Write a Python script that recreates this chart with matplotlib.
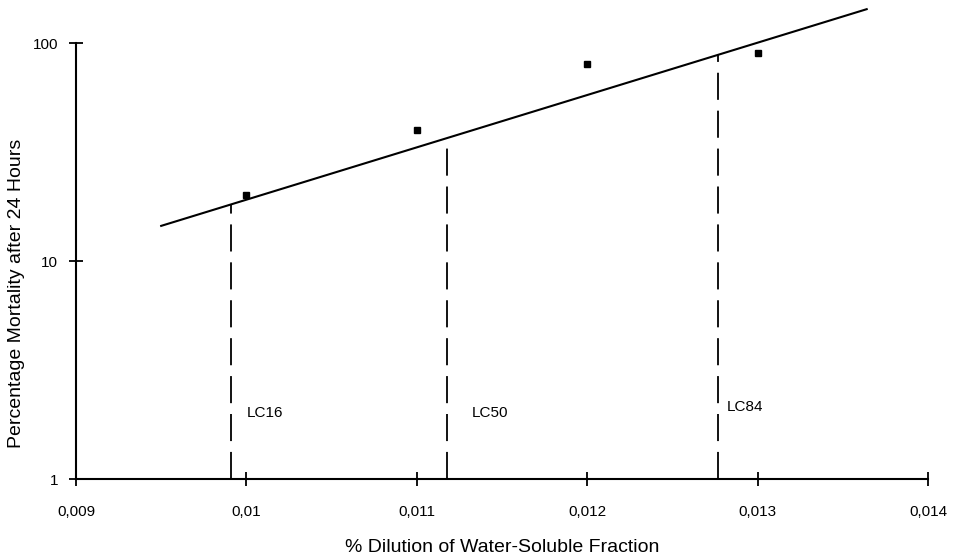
import numpy as np
import matplotlib.pyplot as plt
from matplotlib.ticker import FixedLocator, FixedFormatter, NullLocator

# data
dilution = [0.010, 0.011, 0.012, 0.013]
mortality = [20, 40, 80, 90]

# fitted line end points
fit_x = [0.00950, 0.01364]
fit_y = [14.5, 143]

# lethal concentrations (x, height where the dashed line meets the fit)
lc_names = ["LC16", "LC50", "LC84"]
lc_x = [0.00991, 0.01118, 0.01277]
lc_top = [18.3, 36.7, 89]
lc_label_x = [0.01000, 0.01132, 0.01282]
lc_label_y = [2.0, 2.0, 2.15]

xticks = [0.009, 0.010, 0.011, 0.012, 0.013, 0.014]
xtick_labels = ["0,009", "0,01", "0,011", "0,012", "0,013", "0,014"]
yticks = [1, 10, 100]
ytick_labels = ["1", "10", "100"]

plt.rcParams['font.family'] = ['Liberation Sans', 'DejaVu Sans']

fig = plt.figure(figsize=(9.64, 5.59), dpi=100)
ax = fig.add_axes([0.0788, 0.143, 0.8839, 0.780])

ax.set_yscale('log')
ax.set_xlim(0.009, 0.014)
ax.set_ylim(1, 100)

# fitted line
ax.plot(fit_x, fit_y, color='black', lw=1.5, clip_on=False, zorder=3)

# observed points
ax.plot(dilution, mortality, 's', color='black', markersize=4.5, zorder=4)

# LC dashed verticals and labels
for name, x, top, tx, ty in zip(lc_names, lc_x, lc_top, lc_label_x, lc_label_y):
    ax.plot([x, x], [1, top], color='black', lw=1.3, linestyle=(0, (15, 6)), zorder=2)
    ax.text(tx, ty, name, fontsize=11, ha='left', va='center')

# axes styling
for side in ['top', 'right']:
    ax.spines[side].set_visible(False)
for side in ['left', 'bottom']:
    ax.spines[side].set_linewidth(1.5)

ax.xaxis.set_major_locator(FixedLocator(xticks))
ax.xaxis.set_major_formatter(FixedFormatter(xtick_labels))
ax.yaxis.set_major_locator(FixedLocator(yticks))
ax.yaxis.set_major_formatter(FixedFormatter(ytick_labels))
ax.yaxis.set_minor_locator(NullLocator())
ax.tick_params(axis='both', which='major', direction='inout', length=10, width=1.3, labelsize=11)
ax.tick_params(axis='x', pad=14)
ax.tick_params(axis='y', pad=8)

ax.set_xlabel("% Dilution of Water-Soluble Fraction", fontsize=14, labelpad=14)
fig.text(0.017, 0.475, "Percentage Mortality after 24 Hours", rotation=90,
         ha='center', va='center', fontsize=14,
         family=['Liberation Sans Narrow', 'Liberation Sans', 'DejaVu Sans'])

fig.savefig("out.png", dpi=100)
